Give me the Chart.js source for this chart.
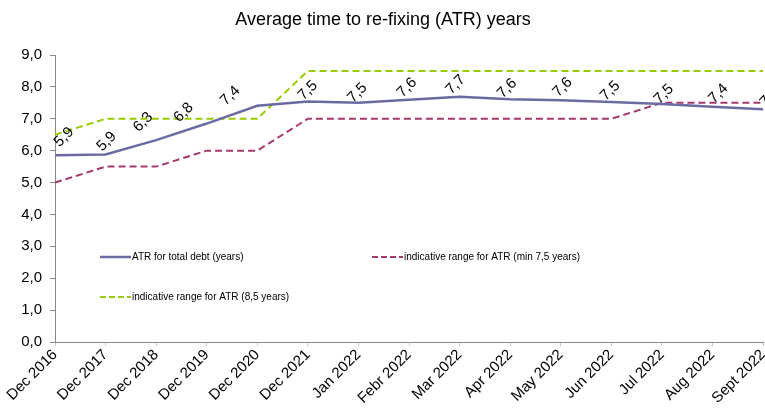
<!DOCTYPE html>
<html><head><meta charset="utf-8">
<script src="https://cdn.jsdelivr.net/npm/chart.js@4.4.0/dist/chart.umd.min.js"></script>
<style>html,body{margin:0;padding:0;background:#fff}#wrap{width:765px;height:408px}</style>
</head><body><div id="wrap"><canvas id="c" width="765" height="408"></canvas></div>
<script>
const categories = ["Dec 2016","Dec 2017","Dec 2018","Dec 2019","Dec 2020","Dec 2021","Jan 2022","Febr 2022","Mar 2022","Apr 2022","May 2022","Jun 2022","Jul 2022","Aug 2022","Sept 2022"];
const atrTotal = [5.86,5.88,6.33,6.85,7.41,7.54,7.50,7.60,7.69,7.61,7.58,7.53,7.46,7.38,7.30];
const rangeMin = [5.0,5.5,5.5,6.0,6.0,7.0,7.0,7.0,7.0,7.0,7.0,7.0,7.5,7.5,7.5];
const range85 = [6.5,7.0,7.0,7.0,7.0,8.5,8.5,8.5,8.5,8.5,8.5,8.5,8.5,8.5,8.5];
const yTicks = [0,1,2,3,4,5,6,7,8,9];
const seriesNames = ["ATR for total debt (years)","indicative range for ATR (min 7,5 years)","indicative range for ATR (8,5 years)"];
const titleText = "Average time to re-fixing (ATR) years";

// label placement style (offsets from each point, px)
const LABEL_DX = [9,1,-13,-23,-27,0,-1,-2,-4,-3,2,-1,2,6,7];
const LABEL_DY = [-18,-13,-18,-11,-10,-11,-10,-12,-12,-11,-13,-11,-10,-13,-12];

const C_ATR = '#6b6ba3', C_MIN = '#a33a6e', C_85 = '#99cc00';
const FONT = '"Liberation Sans", Arial, sans-serif';
const fmt = v => v.toFixed(1).replace('.', ',');

const extras = {
  id: 'extras',
  afterDatasetsDraw(chart) {
    const ctx = chart.ctx;
    const meta = chart.getDatasetMeta(0);
    ctx.save();
    ctx.fillStyle = '#000';
    ctx.font = '15px ' + FONT;
    ctx.textAlign = 'center';
    ctx.textBaseline = 'middle';
    meta.data.forEach((pt, i) => {
      ctx.save();
      ctx.translate(pt.x + LABEL_DX[i], pt.y + LABEL_DY[i]);
      ctx.rotate(-Math.PI / 4);
      ctx.fillText(fmt(atrTotal[i]), 0, 0);
      ctx.restore();
    });
    ctx.restore();
  },
  afterDraw(chart) {
    const ctx = chart.ctx;
    ctx.save();
    ctx.fillStyle = '#000';
    ctx.font = '18px ' + FONT;
    ctx.textAlign = 'center';
    ctx.textBaseline = 'middle';
    ctx.fillText(titleText, 383, 20);
    const items = [
      {x: 100, y: 257, c: C_ATR, dash: [], w: 2.5, t: seriesNames[0]},
      {x: 372, y: 257, c: C_MIN, dash: [6, 3], w: 2, t: seriesNames[1]},
      {x: 100, y: 297, c: C_85, dash: [6, 3], w: 2, t: seriesNames[2]},
    ];
    ctx.font = '10px ' + FONT;
    ctx.textAlign = 'left';
    items.forEach(it => {
      ctx.beginPath();
      ctx.strokeStyle = it.c;
      ctx.lineWidth = it.w;
      ctx.setLineDash(it.dash);
      ctx.moveTo(it.x, it.y);
      ctx.lineTo(it.x + 31, it.y);
      ctx.stroke();
      ctx.setLineDash([]);
      ctx.fillStyle = '#000';
      ctx.fillText(it.t, it.x + 32, it.y);
    });
    ctx.restore();
  }
};

new Chart(document.getElementById('c'), {
  type: 'line',
  data: {
    labels: categories,
    datasets: [
      {label: seriesNames[0], data: atrTotal, borderColor: C_ATR, borderWidth: 2.5, pointRadius: 0, tension: 0},
      {label: seriesNames[1], data: rangeMin, borderColor: C_MIN, borderWidth: 2, borderDash: [7, 4], pointRadius: 0, tension: 0},
      {label: seriesNames[2], data: range85, borderColor: C_85, borderWidth: 2, borderDash: [7, 4], pointRadius: 0, tension: 0}
    ]
  },
  options: {
    responsive: false,
    animation: false,
    layout: {padding: {top: 55, right: 2, left: 0, bottom: 0}},
    plugins: {legend: {display: false}, title: {display: false}, tooltip: {enabled: false}},
    scales: {
      x: {
        offset: false,
        grid: {drawOnChartArea: false, drawTicks: true, tickLength: 4, color: '#c8c8c8'},
        border: {display: true, color: '#888', width: 1},
        ticks: {color: '#000', font: {size: 15, family: FONT}, minRotation: 45, maxRotation: 45, autoSkip: false, padding: 0},
        afterFit: s => { s.height = 66; s.paddingLeft = 0; s.paddingRight = 0; }
      },
      y: {
        min: 0, max: 9,
        afterBuildTicks: s => { s.ticks = yTicks.map(v => ({value: v})); },
        grid: {drawOnChartArea: false, drawTicks: true, tickLength: 5, color: '#888'},
        border: {display: true, color: '#888', width: 1},
        ticks: {color: '#000', font: {size: 15, family: FONT}, padding: 8, callback: v => fmt(v)},
        afterFit: s => { s.width = 55; s.paddingTop = 0; s.paddingBottom = 0; }
      }
    }
  },
  plugins: [extras]
});
</script>
</body></html>
